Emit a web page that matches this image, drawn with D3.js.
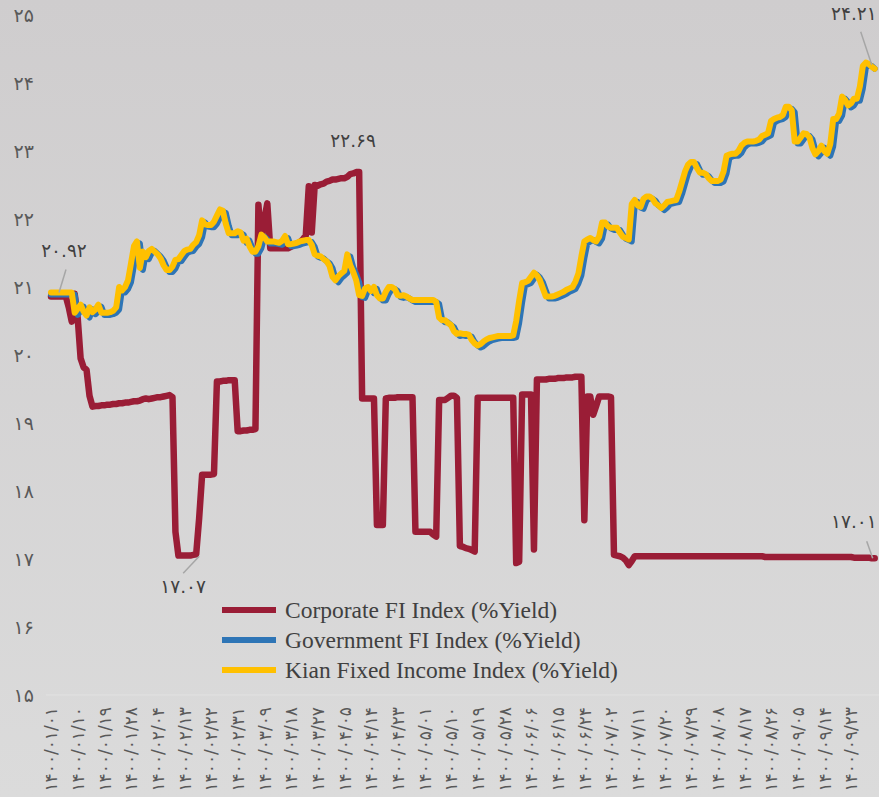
<!DOCTYPE html>
<html>
<head>
<meta charset="utf-8">
<script src="https://cdn.jsdelivr.net/npm/d3@7"></script>
<style>
  body { margin: 0; overflow: hidden; background: #d6d5d5; }
  svg { display: block; }
</style>
</head>
<body>
<script>
// tick labels of the category axis (one every 9 trading days)
const dateLabels = [
  "۱۴۰۰/۰۱/۰۱","۱۴۰۰/۰۱/۱۰","۱۴۰۰/۰۱/۱۹","۱۴۰۰/۰۱/۲۸","۱۴۰۰/۰۲/۰۴","۱۴۰۰/۰۲/۱۳",
  "۱۴۰۰/۰۲/۲۲","۱۴۰۰/۰۲/۳۱","۱۴۰۰/۰۳/۰۹","۱۴۰۰/۰۳/۱۸","۱۴۰۰/۰۳/۲۷","۱۴۰۰/۰۴/۰۵",
  "۱۴۰۰/۰۴/۱۴","۱۴۰۰/۰۴/۲۳","۱۴۰۰/۰۵/۰۱","۱۴۰۰/۰۵/۱۰","۱۴۰۰/۰۵/۱۹","۱۴۰۰/۰۵/۲۸",
  "۱۴۰۰/۰۶/۰۶","۱۴۰۰/۰۶/۱۵","۱۴۰۰/۰۶/۲۴","۱۴۰۰/۰۷/۰۲","۱۴۰۰/۰۷/۱۱","۱۴۰۰/۰۷/۲۰",
  "۱۴۰۰/۰۷/۲۹","۱۴۰۰/۰۸/۰۸","۱۴۰۰/۰۸/۱۷","۱۴۰۰/۰۸/۲۶","۱۴۰۰/۰۹/۰۵","۱۴۰۰/۰۹/۱۴",
  "۱۴۰۰/۰۹/۲۳"
];
const daysPerLabel = 9;
const yTicks = [15, 16, 17, 18, 19, 20, 21, 22, 23, 24, 25];

const seriesNames = ["Corporate FI Index (%Yield)", "Government FI Index (%Yield)", "Kian Fixed Income Index (%Yield)"];
const seriesColors = ["#9a1d36", "#2e75b6", "#ffc000"];

// daily yields, one row per label interval
const corporate = [
  20.86,20.86,20.86,20.86,20.86,20.86,20.70,20.49,20.90,
  20.55,19.95,19.82,19.78,19.40,19.24,19.25,19.25,19.26,
  19.26,19.27,19.27,19.28,19.28,19.29,19.29,19.30,19.30,
  19.31,19.32,19.32,19.33,19.35,19.36,19.35,19.36,19.37,
  19.38,19.38,19.39,19.40,19.41,19.38,17.40,17.05,17.05,
  17.05,17.05,17.05,17.06,17.07,17.60,18.24,18.24,18.24,
  18.24,18.25,19.61,19.61,19.62,19.62,19.63,19.63,19.63,
  18.88,18.88,18.89,18.89,18.90,18.90,18.91,22.21,21.65,
  22.00,22.23,21.57,21.57,21.57,21.57,21.57,21.57,21.57,
  21.59,21.62,21.64,21.66,21.70,21.76,22.48,21.80,22.50,
  22.49,22.51,22.52,22.55,22.56,22.58,22.58,22.59,22.60,
  22.60,22.62,22.66,22.67,22.69,22.69,19.36,19.36,19.36,
  19.36,19.36,17.50,17.50,17.50,19.36,19.37,19.37,19.37,
  19.38,19.38,19.38,19.38,19.38,19.38,17.40,17.40,17.40,
  17.40,17.40,17.40,17.36,17.33,19.34,19.34,19.34,19.37,
  19.40,19.40,19.37,17.19,17.18,17.16,17.15,17.13,17.11,
  19.37,19.37,19.37,19.37,19.37,19.37,19.37,19.37,19.37,
  19.37,19.37,19.37,19.37,16.94,16.96,19.42,19.42,19.42,
  19.42,17.14,19.64,19.64,19.64,19.64,19.65,19.65,19.65,
  19.66,19.66,19.66,19.67,19.67,19.67,19.68,19.68,19.68,
  17.57,19.39,19.39,19.12,19.25,19.39,19.39,19.39,19.39,
  19.38,17.06,17.05,17.04,17.02,16.98,16.91,16.97,17.04,
  17.04,17.04,17.04,17.04,17.04,17.04,17.04,17.04,17.04,
  17.04,17.04,17.04,17.04,17.04,17.04,17.04,17.04,17.04,
  17.04,17.04,17.04,17.04,17.04,17.04,17.04,17.04,17.04,
  17.04,17.04,17.04,17.04,17.04,17.04,17.04,17.04,17.04,
  17.04,17.04,17.04,17.04,17.04,17.04,17.04,17.03,17.03,
  17.03,17.03,17.03,17.03,17.03,17.03,17.03,17.03,17.03,
  17.03,17.03,17.03,17.03,17.03,17.03,17.03,17.03,17.03,
  17.03,17.03,17.03,17.03,17.03,17.03,17.03,17.03,17.03,
  17.03,17.02,17.02,17.02,17.02,17.02,17.02,17.01,17.01
];

const government = [
  20.89,20.89,20.89,20.89,20.89,20.89,20.89,20.89,20.89,
  20.59,20.65,20.71,20.61,20.55,20.67,20.60,20.64,20.71,
  20.59,20.59,20.59,20.60,20.62,20.67,20.97,20.92,20.97,
  21.07,21.32,21.57,21.64,21.25,21.49,21.41,21.50,21.53,
  21.49,21.45,21.39,21.29,21.22,21.22,21.27,21.37,21.38,
  21.44,21.50,21.52,21.53,21.59,21.63,21.73,21.95,21.89,
  21.88,21.88,21.93,22.02,22.11,22.09,21.90,21.76,21.76,
  21.76,21.79,21.77,21.65,21.68,21.57,21.49,21.49,21.57,
  21.74,21.70,21.64,21.64,21.64,21.63,21.62,21.65,21.72,
  21.60,21.60,21.61,21.62,21.64,21.65,21.66,21.66,21.59,
  21.45,21.43,21.42,21.38,21.35,21.28,21.12,21.07,21.13,
  21.17,21.21,21.45,21.29,21.19,21.07,20.85,20.84,20.95,
  20.97,20.91,20.97,20.85,20.80,20.80,20.90,20.97,20.97,
  20.94,20.85,20.84,20.85,20.83,20.80,20.78,20.78,20.78,
  20.78,20.78,20.78,20.78,20.78,20.75,20.52,20.48,20.48,
  20.44,20.41,20.32,20.28,20.29,20.28,20.28,20.27,20.19,
  20.14,20.11,20.13,20.17,20.20,20.22,20.23,20.24,20.25,
  20.25,20.25,20.25,20.25,20.26,20.47,20.77,21.03,21.04,
  21.06,21.12,21.18,21.14,21.07,20.95,20.83,20.83,20.83,
  20.84,20.86,20.88,20.90,20.93,20.95,20.97,21.05,21.17,
  21.42,21.64,21.67,21.69,21.66,21.64,21.71,21.92,21.92,
  21.86,21.84,21.84,21.84,21.77,21.71,21.69,21.67,22.19,
  22.25,22.17,22.15,22.27,22.30,22.30,22.27,22.20,22.17,
  22.13,22.17,22.22,22.23,22.24,22.25,22.37,22.52,22.67,
  22.77,22.81,22.81,22.72,22.65,22.65,22.63,22.57,22.53,
  22.53,22.53,22.55,22.67,22.90,22.92,22.93,22.93,22.97,
  23.05,23.09,23.11,23.11,23.11,23.12,23.14,23.19,23.21,
  23.23,23.41,23.44,23.46,23.47,23.50,23.62,23.62,23.57,
  23.11,23.11,23.17,23.23,23.22,23.17,23.01,22.92,22.97,
  23.05,22.97,22.93,23.07,23.44,23.44,23.52,23.77,23.72,
  23.64,23.67,23.74,23.74,23.92,24.22,24.27,24.25,24.21
];

const kian = [
  20.92,20.92,20.92,20.92,20.92,20.92,20.92,20.92,20.62,
  20.68,20.74,20.64,20.58,20.70,20.63,20.67,20.74,20.62,
  20.62,20.62,20.63,20.65,20.70,21.00,20.95,21.00,21.10,
  21.35,21.60,21.67,21.28,21.52,21.44,21.53,21.56,21.52,
  21.48,21.42,21.32,21.25,21.25,21.30,21.40,21.41,21.47,
  21.53,21.55,21.56,21.62,21.66,21.76,21.98,21.92,21.91,
  21.91,21.96,22.05,22.14,22.12,21.93,21.79,21.79,21.79,
  21.82,21.80,21.68,21.71,21.60,21.52,21.52,21.60,21.77,
  21.73,21.67,21.67,21.67,21.66,21.65,21.68,21.75,21.63,
  21.63,21.64,21.65,21.67,21.68,21.69,21.69,21.62,21.48,
  21.46,21.45,21.41,21.38,21.31,21.15,21.10,21.16,21.20,
  21.24,21.48,21.32,21.22,21.10,20.88,20.87,20.98,21.00,
  20.94,21.00,20.88,20.83,20.83,20.93,21.00,21.00,20.97,
  20.88,20.87,20.88,20.86,20.83,20.81,20.81,20.81,20.81,
  20.81,20.81,20.81,20.81,20.78,20.55,20.51,20.51,20.47,
  20.44,20.35,20.31,20.32,20.31,20.31,20.30,20.22,20.17,
  20.14,20.16,20.20,20.23,20.25,20.26,20.27,20.28,20.28,
  20.28,20.28,20.28,20.29,20.50,20.80,21.06,21.07,21.09,
  21.15,21.21,21.17,21.10,20.98,20.86,20.86,20.86,20.87,
  20.89,20.91,20.93,20.96,20.98,21.00,21.08,21.20,21.45,
  21.67,21.70,21.72,21.69,21.67,21.74,21.95,21.95,21.89,
  21.87,21.87,21.87,21.80,21.74,21.72,21.70,22.22,22.28,
  22.20,22.18,22.30,22.33,22.33,22.30,22.23,22.20,22.16,
  22.20,22.25,22.26,22.27,22.28,22.40,22.55,22.70,22.80,
  22.84,22.84,22.75,22.68,22.68,22.66,22.60,22.56,22.56,
  22.56,22.58,22.70,22.93,22.95,22.96,22.96,23.00,23.08,
  23.12,23.14,23.14,23.14,23.15,23.17,23.22,23.24,23.26,
  23.44,23.47,23.49,23.50,23.53,23.65,23.65,23.60,23.14,
  23.14,23.20,23.26,23.25,23.20,23.04,22.95,23.00,23.08,
  23.00,22.96,23.10,23.47,23.47,23.55,23.80,23.75,23.67,
  23.70,23.77,23.77,23.95,24.25,24.30,24.28,24.24,24.21
];

const w = 879, h = 797;
const faDigits = "۰۱۲۳۴۵۶۷۸۹";
const toFa = s => String(s).replace(/[0-9]/g, c => faDigits[+c]);

const lastLabelIndex = (dateLabels.length - 1) * daysPerLabel;
const xScale = d3.scaleLinear().domain([0, lastLabelIndex]).range([51, 851]);
const yScale = d3.scaleLinear().domain([15, 25]).range([695, 15]);

const svg = d3.select("body").append("svg")
  .attr("width", w).attr("height", h);

const grad = svg.append("defs").append("linearGradient")
  .attr("id", "bg").attr("x1", 0).attr("y1", 0).attr("x2", 0).attr("y2", 1);
grad.append("stop").attr("offset", "0%").attr("stop-color", "#cfcdce");
grad.append("stop").attr("offset", "100%").attr("stop-color", "#dbdbdb");

svg.append("rect").attr("width", w).attr("height", h).attr("fill", "url(#bg)");

// faint base line
svg.append("line")
  .attr("x1", 46).attr("x2", w)
  .attr("y1", yScale(15)).attr("y2", yScale(15))
  .attr("stroke", "#e2e2e2").attr("stroke-width", 1);

// y axis
const yAxis = d3.axisLeft(yScale)
  .tickValues(yTicks)
  .tickSize(0)
  .tickPadding(0)
  .tickFormat(d => toFa(d));

svg.append("g")
  .attr("transform", "translate(34,0)")
  .call(yAxis)
  .call(g => g.select(".domain").remove())
  .selectAll("text")
  .attr("font-family", "DejaVu Sans")
  .attr("font-size", 19)
  .attr("fill", "#595959");

// x axis
const xAxis = d3.axisBottom(xScale)
  .tickValues(dateLabels.map((d, i) => i * daysPerLabel))
  .tickSize(0)
  .tickFormat((d, i) => dateLabels[i]);

svg.append("g")
  .attr("transform", "translate(0," + yScale(15) + ")")
  .call(xAxis)
  .call(g => g.select(".domain").remove())
  .selectAll("text")
  .attr("font-family", "DejaVu Sans")
  .attr("font-size", 17)
  .attr("fill", "#595959")
  .attr("text-anchor", "end")
  .attr("transform", "rotate(-90)")
  .attr("x", -12)
  .attr("y", 0)
  .attr("dy", "0.35em");

// lines
const line = d3.line()
  .x((d, i) => xScale(i))
  .y(d => yScale(d));

const allSeries = [corporate, government, kian];

svg.selectAll(".series")
  .data(allSeries)
  .enter()
  .append("path")
  .attr("class", "series")
  .attr("d", d => line(d))
  .attr("fill", "none")
  .attr("stroke", (d, i) => seriesColors[i])
  .attr("stroke-width", (d, i) => i === 0 ? 6.5 : 6)
  .attr("stroke-linejoin", "round")
  .attr("stroke-linecap", "round");

// value callouts
function callout(series, idx, lx1, ly1, lx2, ly2, tx, ty, anchor) {
  const v = series[idx];
  const px = xScale(idx), py = yScale(v);
  if (lx1 !== null) {
    svg.append("line")
      .attr("x1", px + lx1).attr("y1", py + ly1)
      .attr("x2", px + lx2).attr("y2", py + ly2)
      .attr("stroke", "#a6a6a6").attr("stroke-width", 1.5);
  }
  svg.append("text")
    .attr("x", px + tx).attr("y", py + ty)
    .attr("text-anchor", anchor)
    .attr("font-family", "DejaVu Sans")
    .attr("font-size", 18.5)
    .attr("fill", "#404040")
    .text(toFa(d3.format(".2f")(v)));
}

callout(kian, 0, 8, 0, 15, -23, 13, -35, "middle");
callout(corporate, 103, null, 0, 0, 0, -3, -25, "middle");
callout(corporate, 49, 3, 2, -13, 19, -13, 39, "middle");
callout(kian, lastLabelIndex + 8, -3, -4, -14, -37, 2, -49, "end");
callout(corporate, lastLabelIndex + 8, -2, 0, -8, -17, 2, -30, "end");

// legend
const legend = svg.append("g");
seriesNames.forEach((name, i) => {
  const ly = 610 + i * 30;
  legend.append("line")
    .attr("x1", 222).attr("x2", 276)
    .attr("y1", ly).attr("y2", ly)
    .attr("stroke", seriesColors[i])
    .attr("stroke-width", 6);
  legend.append("text")
    .attr("x", 285).attr("y", ly)
    .attr("dy", "0.35em")
    .attr("font-family", "Liberation Serif")
    .attr("font-size", 23.5)
    .attr("fill", "#404040")
    .text(name);
});
</script>
</body>
</html>
